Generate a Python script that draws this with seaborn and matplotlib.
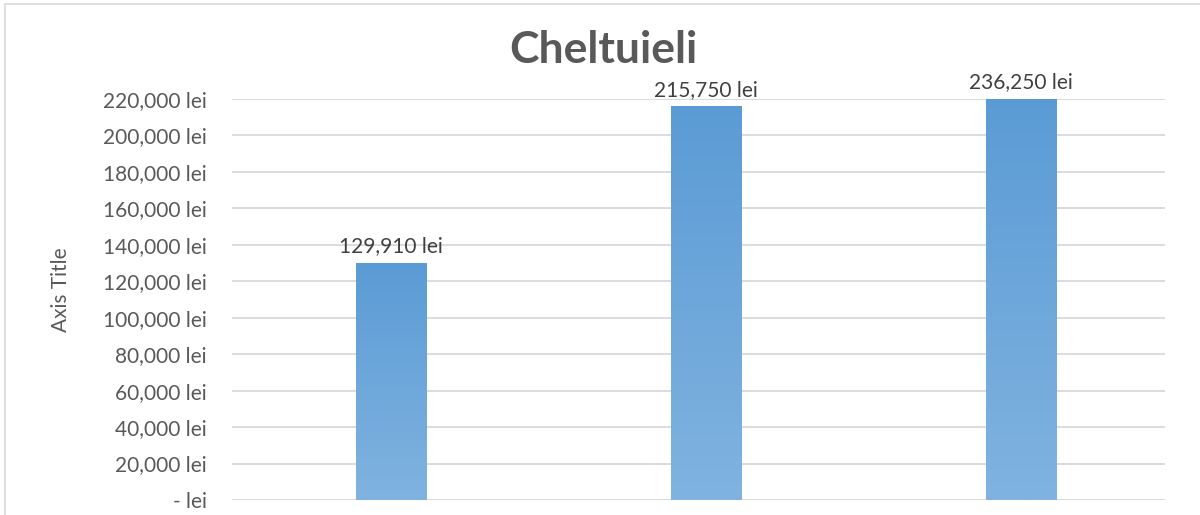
import numpy as np
import pandas as pd
import matplotlib
matplotlib.use("Agg")
import matplotlib.pyplot as plt
import seaborn as sns
from matplotlib.ticker import FixedLocator, FuncFormatter
from matplotlib.colors import LinearSegmentedColormap

categories = ["A", "B", "C"]
values = [129910, 215750, 236250]
yticks = [0, 20000, 40000, 60000, 80000, 100000, 120000, 140000, 160000, 180000, 200000, 220000]

sns.set_theme(style="white")
plt.rcParams['font.family'] = ['Lato', 'DejaVu Sans']

df = pd.DataFrame({"cat": categories, "val": values})

YMAX = 220000
XL, XR = -0.505, 2.457

fig = plt.figure(figsize=(12, 5.15), dpi=100)
ax = fig.add_axes([0.1933, 0.0291, 0.7775, 0.7787])

sns.barplot(data=df, x="cat", y="val", ax=ax, color="#5B9BD5", width=0.225,
            saturation=1)

ax.set_ylim(0, YMAX)
ax.set_xlim(XL, XR)
ax.yaxis.set_major_locator(FixedLocator(yticks))
ax.yaxis.set_major_formatter(FuncFormatter(lambda v, p: "- lei" if v == 0 else f"{int(v):,} lei"))
ax.grid(axis="y", color="#D9D9D9", linewidth=1.3)
ax.set_axisbelow(True)
for s in ax.spines.values():
    s.set_visible(False)
ax.tick_params(axis="y", length=0, labelsize=15, labelcolor="#595959", pad=18)
ax.tick_params(axis="x", length=0, labelbottom=False)
ax.set_xlabel("")
ax.set_ylabel("Axis Title", fontsize=15, color="#595959")
ax.yaxis.set_label_coords(-0.1725, 0.524)

# gradient fill
cmap = LinearSegmentedColormap.from_list("g", ["#80B3E0", "#5B9BD5"])
grad = np.linspace(0, 1, 256).reshape(-1, 1)
for p, v in zip(list(ax.patches), values):
    x0, w = p.get_x(), p.get_width()
    h = min(p.get_height(), YMAX)
    p.set_alpha(0)
    ax.imshow(grad, cmap=cmap, aspect="auto", origin="lower",
              extent=[x0, x0 + w, 0, h], zorder=2)
    ax.annotate(f"{int(v):,} lei", xy=(x0 + w / 2, h), xytext=(0, 5),
                textcoords="offset points", ha="center", va="bottom",
                fontsize=15, color="#404040", annotation_clip=False)
ax.set_xlim(XL, XR)
ax.set_ylim(0, YMAX)

fig.text(0.5025, 0.903, "Cheltuieli", ha="center", va="center", fontsize=32,
         fontweight="bold", color="#595959")

border = plt.Rectangle((0.004, -0.01), 1.0, 1.0 - 0.0078 + 0.01, transform=fig.transFigure,
                       fill=False, edgecolor="#D9D9D9", linewidth=1.2)
fig.patches.append(border)

fig.savefig("out.png", dpi=100)
